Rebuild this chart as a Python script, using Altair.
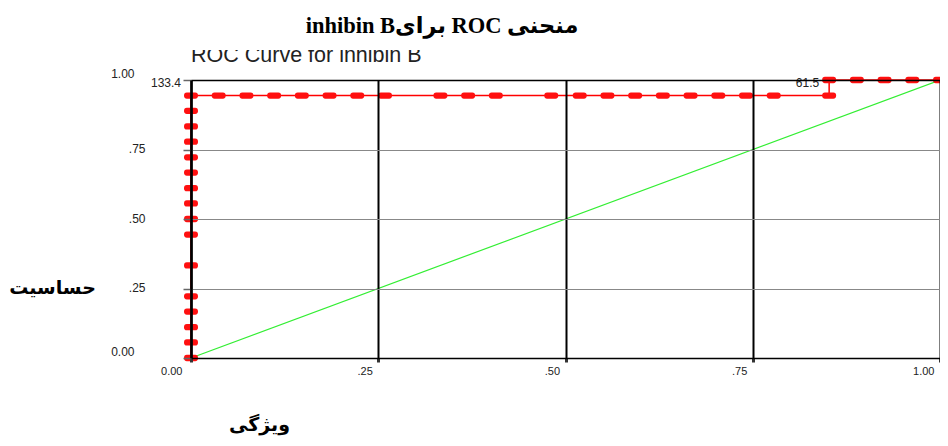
import altair as alt
import pandas as pd

# ---- data ----
fpr = [0.000, 0.000, 0.000, 0.000, 0.000, 0.000, 0.000, 0.000, 0.000, 0.000,
       0.000, 0.000, 0.000, 0.000, 0.000, 0.000,
       0.037, 0.074, 0.111, 0.148, 0.185, 0.222, 0.259, 0.333, 0.370, 0.407,
       0.481, 0.519, 0.556, 0.593, 0.630, 0.667, 0.704, 0.741, 0.778, 0.852,
       0.852, 0.889, 0.926, 0.963, 1.000]
tpr = [0.000, 0.056, 0.111, 0.167, 0.222, 0.333, 0.444, 0.500, 0.556, 0.611,
       0.667, 0.722, 0.778, 0.833, 0.889, 0.944,
       0.944, 0.944, 0.944, 0.944, 0.944, 0.944, 0.944, 0.944, 0.944, 0.944,
       0.944, 0.944, 0.944, 0.944, 0.944, 0.944, 0.944, 0.944, 0.944, 0.944,
       1.000, 1.000, 1.000, 1.000, 1.000]
diag_x = [0.0, 1.0]
diag_y = [0.0, 1.0]
tick_vals = [0.0, 0.25, 0.5, 0.75, 1.0]
cut_fpr = [0.0, 0.852]
cut_tpr = [1.0, 1.0]
cut_text = ["133.4", "61.5"]

title_text = "\u202bمنحنی ROC برایinhibin B\u202c"
subtitle_text = "ROC Curve for inhibin B"
y_title = "حساسیت"
x_title = "ویژگی"

roc = pd.DataFrame({"fpr": fpr, "tpr": tpr, "idx": list(range(len(fpr)))})
diag = pd.DataFrame({"fpr": diag_x, "tpr": diag_y})
cuts = pd.DataFrame({"fpr": cut_fpr, "tpr": cut_tpr, "label": cut_text})

W, H = 749, 278

lab_expr = ("datum.value == 0 ? '0.00' : datum.value == 1 ? '1.00' : "
            "replace(format(datum.value, '.2f'), '0.', '.')")

x_axis = alt.Axis(
    values=tick_vals, labelExpr=lab_expr, grid=True, gridColor="black", gridWidth=2,
    domainColor="black", domainWidth=1.5, ticks=True, tickColor="#333", tickSize=4,
    tickWidth=3, labelAlign="right",
    labelOffset={"condition": {"test": "datum.value == 0", "value": -9}, "value": -6},
    labelBaseline="middle", labelPadding=9, labelFont="Liberation Sans",
    labelFontSize=11, labelColor="#222",
    title=x_title, titleFont="Liberation Serif, DejaVu Sans", titleFontWeight="bold",
    titleFontSize=19, titleColor="black", titleAngle=0, titleAlign="center",
    titleBaseline="bottom", titleX=68, titleY=76, zindex=1,
)
y_axis = alt.Axis(
    values=tick_vals, labelExpr=lab_expr, grid=True,
    gridColor={"condition": {"test": "datum.value == 1", "value": "black"}, "value": "#888"},
    gridWidth={"condition": {"test": "datum.value == 1", "value": 1.5}, "value": 1},
    domainColor="black", domainWidth=2.5, ticks=True, tickColor="#666", tickSize=8,
    tickWidth=1.5, labelAlign="right", labelBaseline="middle",
    labelPadding={"condition": {"test": "datum.value == 0 || datum.value == 1", "value": 49}, "value": 38},
    labelOffset={"condition": {"test": "datum.value == 0 || datum.value == 1", "value": -7}, "value": -1},
    labelFont="Liberation Sans", labelFontSize=12, labelColor="#222",
    title=y_title, titleFont="Liberation Serif, DejaVu Sans", titleFontWeight="bold",
    titleFontSize=19, titleColor="black", titleAngle=0, titleAlign="center",
    titleBaseline="middle", titleX=-139, titleY=207, zindex=1,
)

xs = alt.Scale(domain=[0, 1], nice=False, zero=False)
ys = alt.Scale(domain=[0, 1], nice=False, zero=False)
X = alt.X("fpr:Q", scale=xs, axis=x_axis)
Y = alt.Y("tpr:Q", scale=ys, axis=y_axis)

diag_layer = alt.Chart(diag).mark_line(color="#33ee33", strokeWidth=1.2).encode(x=X, y=Y)
roc_line = alt.Chart(roc).mark_line(color="#ff0000", strokeWidth=1.5).encode(
    x=X, y=Y, order="idx:Q")
capsule = ("M -0.6 -0.45 L 0.6 -0.45 Q 1 -0.45 1 0 Q 1 0.45 0.6 0.45 "
           "L -0.6 0.45 Q -1 0.45 -1 0 Q -1 -0.45 -0.6 -0.45 Z")
roc_pts = alt.Chart(roc).mark_point(
    shape=capsule, filled=True, color="#ff1010", opacity=1, size=196
).encode(x=X, y=Y)
cut_labels = alt.Chart(cuts).mark_text(
    align="right", baseline="middle", dx=-10, dy=3, font="Liberation Sans",
    fontSize=12, color="#222"
).encode(x=X, y=Y, text="label:N")

one = alt.Data(values=[{}])
subtitle = alt.Chart(one).mark_text(
    text=subtitle_text, align="left", baseline="alphabetic", font="Liberation Sans",
    fontSize=21.5, color="#222"
).encode(x=alt.value(0), y=alt.value(-18))
mask = alt.Chart(one).mark_rect(color="white").encode(
    x=alt.value(-183), x2=alt.value(620), y=alt.value(-80), y2=alt.value(-30))
title = alt.Chart(one).mark_text(
    text=title_text, align="center", baseline="alphabetic",
    font="Liberation Serif, DejaVu Sans", fontWeight="bold", fontSize=22.5, color="black"
).encode(x=alt.value(251), y=alt.value(-47))

chart = alt.layer(
    diag_layer, roc_line, roc_pts, cut_labels, subtitle, mask, title
).properties(
    width=W, height=H,
    autosize=alt.AutoSizeParams(type="none"),
    padding={"left": 183, "top": 72, "right": 0, "bottom": 80},
).configure_view(stroke=None).configure(background="white")

chart.save("out.html", embed_options={"renderer": "svg", "actions": False})
